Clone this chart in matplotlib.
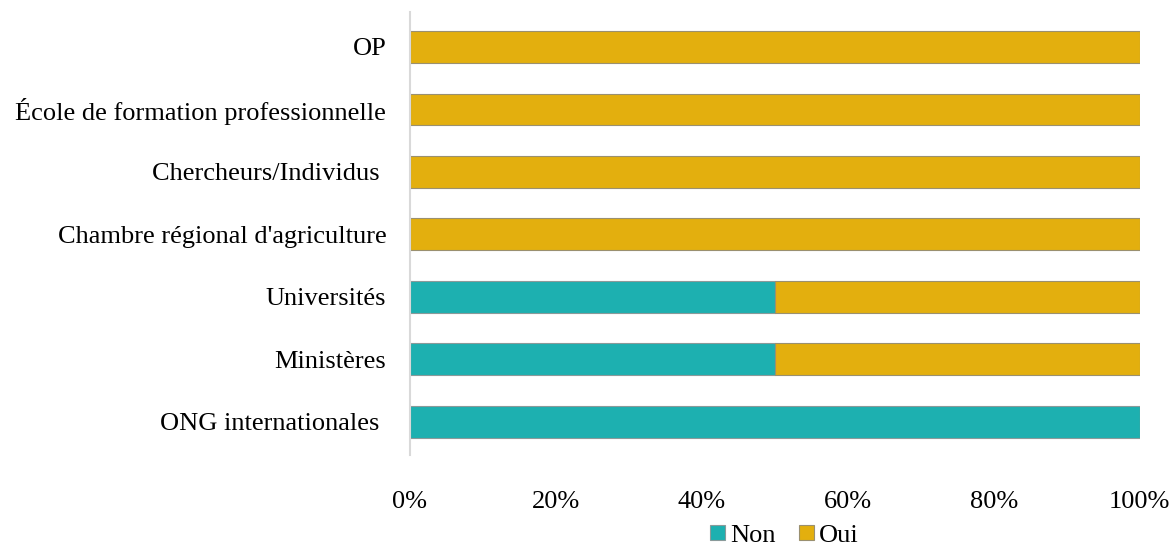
import matplotlib
matplotlib.use("Agg")
from matplotlib import pyplot as plt
from matplotlib.ticker import PercentFormatter

categories = ["ONG internationales ", "Ministères", "Universités",
              "Chambre régional d'agriculture", "Chercheurs/Individus ",
              "École de formation professionnelle", "OP"]
non = [100, 50, 50, 0, 0, 0, 0]
oui = [0, 50, 50, 100, 100, 100, 100]

plt.rcParams['font.family'] = ['Liberation Serif', 'DejaVu Serif']

fig = plt.figure(figsize=(11.73, 5.46), dpi=100)
ax = fig.add_axes([0.3495, 0.167, 0.622, 0.811])

pos = range(len(categories))
ax.barh(pos, non, height=0.51, color="#1DB0B0", edgecolor="#8a9a9a", linewidth=0.8, label="Non")
ax.barh(pos, oui, left=non, height=0.51, color="#E3AF0E", edgecolor="#9a9070", linewidth=0.8, label="Oui")

ax.set_xlim(0, 100)
ax.set_ylim(-0.53, 6.56)
ax.set_yticks(list(pos))
ax.set_yticklabels(categories)
ax.set_xticks([0, 20, 40, 60, 80, 100])
ax.xaxis.set_major_formatter(PercentFormatter(decimals=0))
ax.tick_params(axis='both', length=0, labelsize=19)
ax.tick_params(axis='y', pad=17)
ax.tick_params(axis='x', pad=26)

for s in ["top", "right", "bottom"]:
    ax.spines[s].set_visible(False)
ax.spines["left"].set_color("#d9d9d9")
ax.spines["left"].set_linewidth(1.5)

fig.legend(loc="lower center", bbox_to_anchor=(0.669, -0.045), ncol=2, frameon=False,
           fontsize=19, handlelength=0.55, handleheight=0.55, handletextpad=0.2, columnspacing=0.9)

plt.savefig("out.png")
